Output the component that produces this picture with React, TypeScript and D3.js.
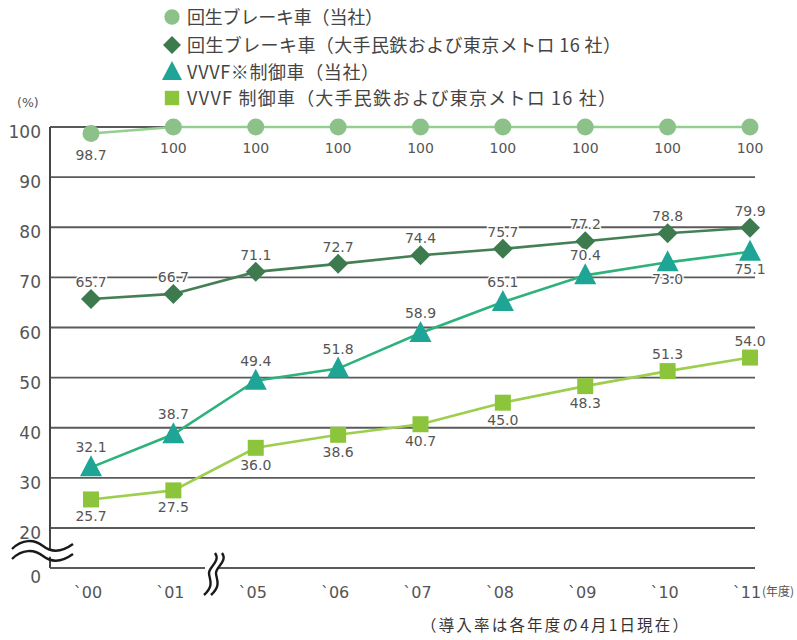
import React from "react";
import * as d3 from "d3";

const categories = ["`00", "`01", "`05", "`06", "`07", "`08", "`09", "`10", "`11"];
const regenOwn = [98.7, 100, 100, 100, 100, 100, 100, 100, 100];
const regenMajor = [65.7, 66.7, 71.1, 72.7, 74.4, 75.7, 77.2, 78.8, 79.9];
const vvvfOwn = [32.1, 38.7, 49.4, 51.8, 58.9, 65.1, 70.4, 73.0, 75.1];
const vvvfMajor = [25.7, 27.5, 36.0, 38.6, 40.7, 45.0, 48.3, 51.3, 54.0];
const yTicks = [20, 30, 40, 50, 60, 70, 80, 90, 100];
const legendLabels = [
  "回生ブレーキ車（当社）",
  "回生ブレーキ車（大手民鉄および東京メトロ 16 社）",
  "VVVF※制御車（当社）",
  "VVVF 制御車（大手民鉄および東京メトロ 16 社）",
];
// label placement: true = below point
const regenOwnBelow = [true, true, true, true, true, true, true, true, true];
const regenMajorBelow = [false, false, false, false, false, false, false, false, false];
const vvvfOwnBelow = [false, false, false, false, false, false, false, true, true];
const vvvfMajorBelow = [true, true, true, true, true, true, true, false, false];

const FONT = "'Noto Sans CJK JP', 'Noto Sans', sans-serif";
const NUMFONT = "'DejaVu Sans', 'Noto Sans', sans-serif";

type Series = {
  values: number[];
  below: boolean[];
  shape: "circle" | "diamond" | "triangle" | "square";
  fill: string;
  line: string;
};

const series: Series[] = [
  { values: regenOwn, below: regenOwnBelow, shape: "circle", fill: "#8cc28a", line: "#93cf8e" },
  { values: regenMajor, below: regenMajorBelow, shape: "diamond", fill: "#3d7b4f", line: "#447f55" },
  { values: vvvfOwn, below: vvvfOwnBelow, shape: "triangle", fill: "#1ea596", line: "#2db27b" },
  { values: vvvfMajor, below: vvvfMajorBelow, shape: "square", fill: "#8cc43c", line: "#9dce4e" },
];

function Marker({ shape, x, y, fill, s = 1 }: { shape: string; x: number; y: number; fill: string; s?: number }) {
  if (shape === "circle") return <circle cx={x} cy={y} r={8.5 * s} fill={fill} />;
  if (shape === "diamond") {
    const h = 10 * s;
    return <path d={`M${x},${y - h}L${x + h},${y}L${x},${y + h}L${x - h},${y}Z`} fill={fill} />;
  }
  if (shape === "triangle") {
    const h = 10 * s;
    return <path d={`M${x},${y - h - 2}L${x + h + 1},${y + h - 1}L${x - h - 1},${y + h - 1}Z`} fill={fill} />;
  }
  const a = 8 * s;
  return <rect x={x - a} y={y - a} width={2 * a} height={2 * a} fill={fill} />;
}

export default function App() {
  const W = 797, H = 640;
  const x = d3.scalePoint<string>().domain(categories).range([91, 750]);
  const y = d3.scaleLinear().domain([20, 100]).range([528, 127]);
  const axisX = 50, gridRight = 755, baseY = 568;
  const line = d3.line<number>().x((_, i) => x(categories[i]) as number).y((v) => y(v));

  const wave = (x0: number, yy: number) =>
    `M${x0},${yy + 3} C${x0 + 10},${yy - 7} ${x0 + 22},${yy - 7} ${x0 + 31},${yy} S${x0 + 50},${yy + 6} ${x0 + 61},${yy - 2}`;
  const vwave = (xx: number, y0: number) =>
    `M${xx + 8},${y0} C${xx + 14},${y0 + 8} ${xx + 2},${y0 + 14} ${xx + 2},${y0 + 20} S${xx + 8},${y0 + 32} ${xx - 3},${y0 + 42}`;

  const legendLens = [196, 434, 192, 429];
  const legendYs = [17, 45, 72, 98];

  return (
    <svg width={W} height={H} style={{ position: "absolute", left: 0, top: 0, background: "#fff" }}>
      {/* legend */}
      {series.map((s, i) => {
        const ly = legendYs[i];
        return (
          <g key={"lg" + i}>
            <Marker shape={s.shape} x={172} y={ly} fill={s.fill} s={0.9} />
            <text
              x={187}
              y={ly + 6.5}
              fontSize={18}
              fill="#444"
              fontFamily={FONT}
              textLength={legendLens[i]}
              lengthAdjust="spacing"
            >
              {legendLabels[i]}
            </text>
          </g>
        );
      })}
      <text x={17} y={107} fontSize={12.5} fill="#555" fontFamily={NUMFONT}>(%)</text>

      {/* grid */}
      {yTicks.map((t) => (
        <g key={"g" + t}>
          <line x1={axisX} x2={gridRight} y1={y(t)} y2={y(t)} stroke="#5a5a5a" strokeWidth={1.8} />
          <text x={41} y={y(t) + 11} textAnchor="end" fontSize={17} fill="#555" fontFamily={NUMFONT}>{t}</text>
        </g>
      ))}
      <text x={41} y={baseY + 15} textAnchor="end" fontSize={17} fill="#555" fontFamily={NUMFONT}>0</text>
      <line x1={axisX} x2={axisX} y1={y(100)} y2={baseY} stroke="#444" strokeWidth={2} />
      <line x1={axisX} x2={gridRight} y1={baseY} y2={baseY} stroke="#5a5a5a" strokeWidth={1.8} />

      {/* axis breaks */}
      <path
        d={`M12,549 C22,539 34,539 43,546 S62,552 73,544 L73,554 C62,562 52,556 43,556 S22,549 12,559 Z`}
        fill="#fff"
      />
      <path d={wave(12, 546)} fill="none" stroke="#1a1a1a" strokeWidth={2.4} />
      <path d={wave(12, 556)} fill="none" stroke="#1a1a1a" strokeWidth={2.4} />
      <rect x={205} y={560} width={12} height={16} fill="#fff" />
      <path d={vwave(207, 553)} fill="none" stroke="#1a1a1a" strokeWidth={2.4} />
      <path d={vwave(214, 553)} fill="none" stroke="#1a1a1a" strokeWidth={2.4} />

      {/* x labels */}
      {categories.map((c) => (
        <text key={c} x={(x(c) as number) - 3} y={598} textAnchor="middle" fontSize={16} fill="#555" fontFamily={NUMFONT}>
          {c}
        </text>
      ))}
      <text x={762} y={596} fontSize={12} fill="#555" fontFamily={FONT}>(年度)</text>

      {/* series */}
      {series.map((s, si) => (
        <path key={"l" + si} d={line(s.values) as string} fill="none" stroke={s.line} strokeWidth={2.6} />
      ))}
      {series.map((s, si) =>
        s.values.map((v, i) => (
          <Marker key={"m" + si + "-" + i} shape={s.shape} x={x(categories[i]) as number} y={y(v)} fill={s.fill} />
        ))
      )}
      {series.map((s, si) =>
        s.values.map((v, i) => {
          const px = x(categories[i]) as number;
          const below = s.below[i];
          const off = si === 0 ? 26 : below ? 22 : -12;
          const offA = si === 2 && !below ? -15 : off;
          return (
            <text
              key={"t" + si + "-" + i}
              x={px}
              y={y(v) + offA}
              textAnchor="middle"
              fontSize={14}
              fill="#555"
              fontFamily={NUMFONT}
              stroke="#fff"
              strokeWidth={3}
              paintOrder="stroke"
            >
              {v === 100 ? "100" : v.toFixed(1)}
            </text>
          );
        })
      )}

      <text x={421} y={631} fontSize={15.5} fill="#333" fontFamily={FONT} textLength={267} lengthAdjust="spacing">
        （導入率は各年度の4月1日現在）
      </text>
    </svg>
  );
}
